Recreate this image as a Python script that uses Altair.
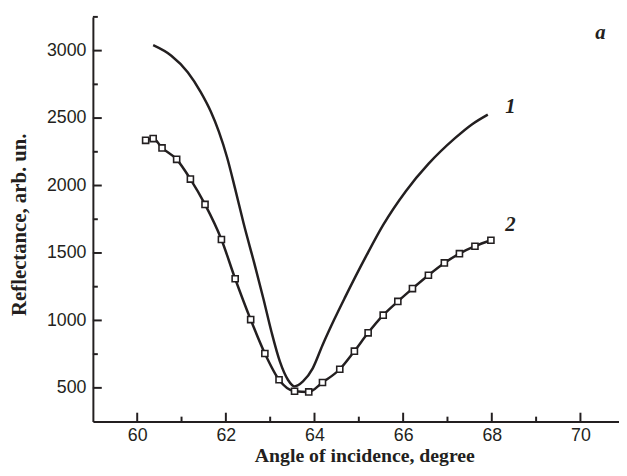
import altair as alt
import pandas as pd

# Curve 1 (smooth, no markers)
c1_x = [60.36, 60.77, 61.14, 61.43, 61.66, 61.84, 62.03, 62.21, 62.40, 62.66,
        62.85, 63.03, 63.22, 63.40, 63.55, 63.74, 63.96, 64.18, 64.45, 64.68,
        65.17, 65.55, 66.06, 66.57, 67.17, 67.55, 67.91]
c1_y = [3040, 2962, 2840, 2694, 2548, 2401, 2206, 1975, 1720, 1401,
        1157, 914, 694, 560, 511, 548, 645, 816, 1010, 1165,
        1480, 1708, 1958, 2160, 2351, 2453, 2526]

# Curve 2 (with square markers)
c2_x = [60.19, 60.36, 60.56, 60.89, 61.2, 61.53, 61.9, 62.21, 62.56, 62.88, 63.2,
        63.55, 63.87, 64.18, 64.57, 64.9, 65.21, 65.55, 65.88, 66.21, 66.57, 66.93,
        67.27, 67.62, 67.98]
c2_y = [2335, 2348, 2279, 2194, 2048, 1860, 1600, 1309, 1006, 755, 560,
        475, 470, 540, 638, 772, 908, 1039, 1141, 1236, 1335, 1426,
        1495, 1550, 1594]

# Annotations
lab_text = ["1", "2", "a"]
lab_x = [68.42, 68.42, 70.45]
lab_y = [2584, 1706, 3133]

x_major = [60, 62, 64, 66, 68, 70]
x_minor = [61, 63, 65, 67, 69]
y_major = [500, 1000, 1500, 2000, 2500, 3000]
y_minor = [750, 1250, 1750, 2250, 2750, 3250]

INK = "#231f20"
W, H = 533, 410

df1 = pd.DataFrame({"x": c1_x, "y": c1_y})
df2 = pd.DataFrame({"x": c2_x, "y": c2_y})
dlab = pd.DataFrame({"t": lab_text, "x": lab_x, "y": lab_y})

xs = alt.Scale(domain=[59, 70.87], nice=False, zero=False)
ys = alt.Scale(domain=[250, 3250], nice=False, zero=False)

xaxis = alt.Axis(values=x_major, format="d", ticks=False, grid=False,
                 domainColor=INK, domainWidth=2, labelColor=INK,
                 labelFont="Liberation Sans", labelFontSize=18, labelPadding=5,
                 title="Angle of incidence, degree", titleFont="Liberation Serif",
                 titleFontWeight="bold", titleFontSize=20, titleColor=INK,
                 titleX=275, titleY=44, titleBaseline="bottom", titleAlign="center")
yaxis = alt.Axis(values=y_major, format="d", ticks=False, grid=False,
                 domainColor=INK, domainWidth=2, labelColor=INK,
                 labelFont="Liberation Sans", labelFontSize=18, labelPadding=7,
                 title="Reflectance, arb. un.", titleFont="Liberation Serif",
                 titleFontWeight="bold", titleFontSize=21, titleColor=INK,
                 titleX=-68, titleY=210, titleAngle=-90,
                 titleBaseline="alphabetic", titleAlign="center")

base_x = alt.X("x:Q", scale=xs, axis=xaxis)
base_y = alt.Y("y:Q", scale=ys, axis=yaxis)

line1 = alt.Chart(df1).mark_line(interpolate="monotone", color=INK, strokeWidth=2.5).encode(
    x=base_x, y=base_y)
line2 = alt.Chart(df2).mark_line(interpolate="monotone", color=INK, strokeWidth=2.5).encode(
    x=alt.X("x:Q", scale=xs), y=alt.Y("y:Q", scale=ys))
pts2 = alt.Chart(df2).mark_point(shape="square", size=38, filled=True, fill="white",
                                 stroke=INK, strokeWidth=1.6, opacity=1).encode(
    x=alt.X("x:Q", scale=xs), y=alt.Y("y:Q", scale=ys))

xt_major = alt.Chart(pd.DataFrame({"v": x_major})).mark_rule(color=INK, strokeWidth=2).encode(
    x=alt.X("v:Q", scale=xs), y=alt.value(H), y2=alt.value(H - 9))
xt_minor = alt.Chart(pd.DataFrame({"v": x_minor})).mark_rule(color=INK, strokeWidth=2).encode(
    x=alt.X("v:Q", scale=xs), y=alt.value(H), y2=alt.value(H - 5))
yt_major = alt.Chart(pd.DataFrame({"v": y_major})).mark_rule(color=INK, strokeWidth=2).encode(
    y=alt.Y("v:Q", scale=ys), x=alt.value(0), x2=alt.value(9))
yt_minor = alt.Chart(pd.DataFrame({"v": y_minor})).mark_rule(color=INK, strokeWidth=2).encode(
    y=alt.Y("v:Q", scale=ys), x=alt.value(0), x2=alt.value(5))

labels = alt.Chart(dlab).mark_text(font="Liberation Serif", fontStyle="italic",
                                   fontWeight="bold", fontSize=21, color=INK,
                                   align="center", baseline="middle").encode(
    x=alt.X("x:Q", scale=xs), y=alt.Y("y:Q", scale=ys), text="t:N")

chart = alt.layer(line1, line2, pts2, xt_major, xt_minor, yt_major, yt_minor, labels).properties(
    width=W, height=H,
    autosize=alt.AutoSizeParams(type="none"),
    padding={"left": 86, "top": 6, "right": 0, "bottom": 44},
    background="white",
).configure_view(stroke=None)

chart.save("out.html", embed_options={"renderer": "svg", "actions": False})
